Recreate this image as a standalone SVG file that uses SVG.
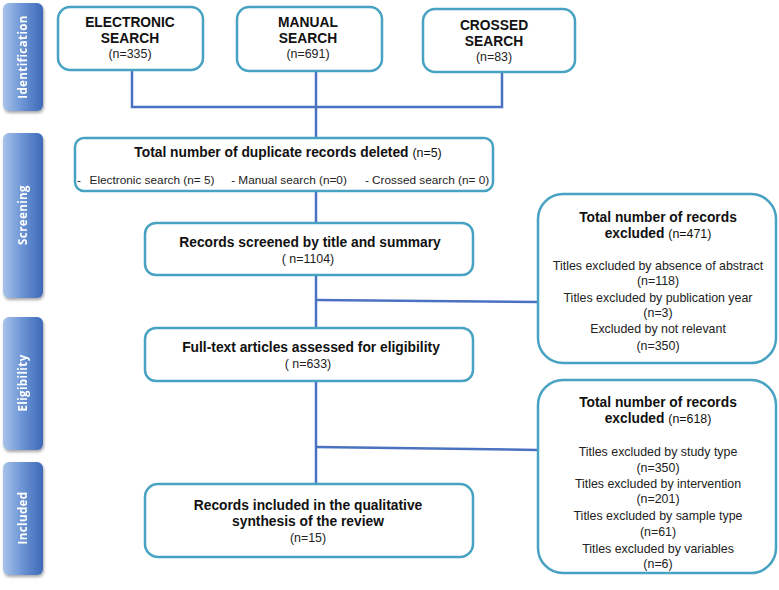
<svg xmlns="http://www.w3.org/2000/svg" width="779" height="590" viewBox="0 0 779 590">
<defs>
<linearGradient id="side" x1="0" y1="0" x2="1" y2="0">
<stop offset="0" stop-color="#a9c3ea"/>
<stop offset="0.45" stop-color="#6f97d6"/>
<stop offset="1" stop-color="#3d69b8"/>
</linearGradient>
<filter id="sh" x="-20%" y="-10%" width="150%" height="130%">
<feGaussianBlur in="SourceAlpha" stdDeviation="1.5"/>
<feOffset dx="1" dy="2" result="b"/>
<feComponentTransfer><feFuncA type="linear" slope="0.35"/></feComponentTransfer>
<feMerge><feMergeNode/><feMergeNode in="SourceGraphic"/></feMerge>
</filter>
</defs>
<style>
.box{fill:#fff;stroke:#48a2c2;stroke-width:2.5}
.side{fill:url(#side)}
.st{fill:#fff;font-family:"Open Sans","DejaVu Sans",sans-serif;font-weight:bold;font-size:11.5px;letter-spacing:0.4px;text-anchor:middle}
.b{font-family:"Liberation Sans",Arial,sans-serif;font-weight:bold;font-size:13.8px;fill:#111;text-anchor:middle}
.r{font-family:"Liberation Sans",Arial,sans-serif;font-size:12.4px;fill:#222;text-anchor:middle}
.d{font-size:11.8px}
.rn{font-weight:normal}
.ln{fill:none;stroke:#4a72c0;stroke-width:2.5}
</style>
<rect width="779" height="590" fill="#fff"/>

<g id="side-labels">
<g id="identification" filter="url(#sh)"><rect class="side" x="3" y="3" width="40" height="108" rx="6"/><text class="st" transform="translate(27,57) rotate(-90)">Identification</text></g>
<g id="screening" filter="url(#sh)"><rect class="side" x="3" y="133" width="40" height="165" rx="6"/><text class="st" transform="translate(27,215) rotate(-90)">Screening</text></g>
<g id="eligibility" filter="url(#sh)"><rect class="side" x="3" y="317" width="40" height="133" rx="6"/><text class="st" transform="translate(27,383) rotate(-90)">Eligibility</text></g>
<g id="included" filter="url(#sh)"><rect class="side" x="3" y="462" width="40" height="113" rx="6"/><text class="st" transform="translate(27,518) rotate(-90)">Included</text></g>
</g>

<g id="connectors">
<path class="ln" d="M132,70 V107 H502 V70"/>
<path class="ln" d="M316,71 V138"/>
<path class="ln" d="M316,191 V223"/>
<path class="ln" d="M316,275 V328"/>
<path class="ln" d="M316,300 L538,302"/>
<path class="ln" d="M316,381 V484"/>
<path class="ln" d="M316,447 L538,450"/>
</g>

<g id="electronic-search">
<rect class="box" x="58" y="7" width="145" height="63" rx="12"/>
<text class="b" x="130" y="27">ELECTRONIC</text>
<text class="b" x="130" y="43">SEARCH</text>
<text class="r" x="130" y="58">(n=335)</text>
</g>
<g id="manual-search">
<rect class="box" x="237" y="7" width="145" height="64" rx="12"/>
<text class="b" x="308" y="27">MANUAL</text>
<text class="b" x="308" y="43">SEARCH</text>
<text class="r" x="308" y="58">(n=691)</text>
</g>
<g id="crossed-search">
<rect class="box" x="423" y="9" width="152" height="63" rx="12"/>
<text class="b" x="494" y="30">CROSSED</text>
<text class="b" x="494" y="46">SEARCH</text>
<text class="r" x="494" y="61">(n=83)</text>
</g>

<g id="duplicates">
<rect class="box" x="75" y="138" width="418" height="53" rx="9"/>
<text class="b" x="288" y="157">Total number of duplicate records deleted <tspan class="rn" font-size="12.4px">(n=5)</tspan></text>
<text class="r d" x="79" y="184" text-anchor="start">-</text>
<text class="r d" x="152" y="184">Electronic search (n= 5)</text>
<text class="r d" x="289" y="184">-  Manual  search (n=0)</text>
<text class="r d" x="427" y="184">-  Crossed search (n= 0)</text>
</g>

<g id="screened">
<rect class="box" x="145" y="223" width="328" height="52" rx="11"/>
<text class="b" x="310" y="247">Records screened by title  and summary</text>
<text class="r" x="308" y="263">( n=1104)</text>
</g>

<g id="excluded-1">
<rect class="box" x="538" y="194" width="238" height="169" rx="25"/>
<text class="b" x="658" y="222">Total number of records</text>
<text class="b" x="658" y="238">excluded <tspan class="rn" font-size="12.4px">(n=471)</tspan></text>
<text class="r" x="658" y="270">Titles excluded by absence of abstract</text>
<text class="r" x="658" y="285">(n=118)</text>
<text class="r" x="658" y="302">Titles excluded by publication year</text>
<text class="r" x="658" y="317">(n=3)</text>
<text class="r" x="658" y="333">Excluded by not relevant</text>
<text class="r" x="658" y="350">(n=350)</text>
</g>

<g id="full-text">
<rect class="box" x="145" y="328" width="328" height="53" rx="11"/>
<text class="b" x="311" y="352">Full-text articles assessed for eligibility</text>
<text class="r" x="308" y="368">( n=633)</text>
</g>

<g id="excluded-2">
<rect class="box" x="538" y="380" width="238" height="193" rx="25"/>
<text class="b" x="658" y="407">Total number of records</text>
<text class="b" x="658" y="423">excluded <tspan class="rn" font-size="12.4px">(n=618)</tspan></text>
<text class="r" x="658" y="456">Titles excluded by study type</text>
<text class="r" x="658" y="472">(n=350)</text>
<text class="r" x="658" y="488">Titles excluded by intervention</text>
<text class="r" x="658" y="503">(n=201)</text>
<text class="r" x="658" y="520">Titles excluded by sample type</text>
<text class="r" x="658" y="536">(n=61)</text>
<text class="r" x="658" y="553">Titles excluded by variables</text>
<text class="r" x="658" y="568">(n=6)</text>
</g>

<g id="included-records">
<rect class="box" x="145" y="484" width="328" height="73" rx="13"/>
<text class="b" x="308" y="510">Records included in the qualitative</text>
<text class="b" x="308" y="526">synthesis of the review</text>
<text class="r" x="308" y="542">(n=15)</text>
</g>
</svg>
